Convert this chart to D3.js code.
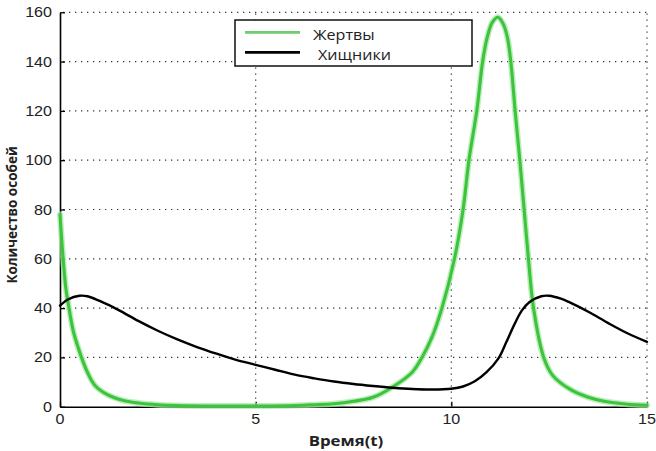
<!DOCTYPE html>
<html>
<head>
<meta charset="utf-8">
<script src="https://cdn.jsdelivr.net/npm/d3@7"></script>
<style>
  html, body { margin: 0; padding: 0; background: #fff; }
  svg { display: block; }
</style>
</head>
<body>
<svg id="chart" width="656" height="451"></svg>
<script>
// Prey population (Жертвы) over time
const preyTime = [0, 0.08, 0.15, 0.23, 0.35, 0.55, 0.7, 0.9, 1.2, 1.6, 2.0, 2.5, 3, 4, 5, 6, 6.5, 7, 7.5, 8, 8.5, 9, 9.25, 9.5, 9.76, 10.08, 10.3, 10.45, 10.65, 10.8, 10.92, 11.05, 11.19, 11.32, 11.43, 11.52, 11.63, 11.75, 11.86, 11.97, 12.1, 12.36, 12.6, 13.04, 13.5, 13.9, 14.5, 15];
const preyValues = [78, 60, 48, 40, 30, 20, 14, 8.5, 5, 2.6, 1.5, 0.8, 0.5, 0.3, 0.3, 0.5, 0.8, 1.2, 2.2, 3.8, 8, 14, 20, 28, 40, 60, 80, 100, 120, 140, 150, 156, 158, 155.5, 150, 140, 120, 100, 80, 60, 40, 20, 12.5, 7, 3.8, 2.2, 1, 0.6];

// Predator population (Хищники) over time
const predatorTime = [0, 0.2, 0.5, 0.7, 1.0, 1.5, 2.0, 2.5, 3.0, 3.5, 4.0, 4.5, 5.0, 5.5, 6.0, 6.5, 7.0, 7.5, 8.0, 8.5, 9.0, 9.5, 10.0, 10.3, 10.6, 10.9, 11.2, 11.4, 11.6, 11.8, 12.0, 12.3, 12.5, 12.8, 13.0, 13.5, 14.0, 14.5, 15.0];
const predatorValues = [41, 43.5, 45, 44.8, 43, 39.2, 34.8, 30.8, 27.3, 24.2, 21.5, 19, 17, 15, 13, 11.5, 10.2, 9.2, 8.4, 7.7, 7.2, 7, 7.3, 8.2, 10.3, 14, 19.5, 26, 33, 39, 42.5, 44.8, 45, 43.8, 42.5, 38.5, 34, 29.8, 26.3];

const xTickValues = [0, 5, 10, 15];
const yTickValues = [0, 20, 40, 60, 80, 100, 120, 140, 160];
const seriesNames = ["Жертвы", "Хищники"];
const xTitle = "Время(t)";
const yTitle = "Количество особей";

const svg = d3.select("#chart");

const x = d3.scaleLinear().domain([0, 15]).range([60, 647]);
const y = d3.scaleLinear().domain([0, 160]).range([406.7, 12.3]);

// dotted grid
const grid = svg.append("g")
  .attr("stroke", "#333")
  .attr("stroke-width", 1.2)
  .attr("stroke-dasharray", "1.3,4.7")
  .attr("fill", "none");
grid.selectAll("line.h").data(yTickValues.filter(v => v > 0)).join("line")
  .attr("class", "h")
  .attr("x1", x(0) + 3).attr("x2", x(15))
  .attr("y1", d => y(d)).attr("y2", d => y(d));
grid.selectAll("line.v").data(xTickValues.filter(v => v > 0)).join("line")
  .attr("class", "v")
  .attr("x1", d => x(d)).attr("x2", d => x(d))
  .attr("y1", y(0) - 2).attr("y2", y(160));

// axes with inward ticks
const xAxis = svg.append("g")
  .attr("transform", `translate(0,${y(0)})`)
  .call(d3.axisBottom(x).tickValues(xTickValues).tickSize(-5).tickSizeOuter(0).tickFormat(""));
const yAxis = svg.append("g")
  .attr("transform", `translate(${x(0)},0)`)
  .call(d3.axisLeft(y).tickValues(yTickValues).tickSize(-5).tickSizeOuter(0).tickFormat(""));
[xAxis, yAxis].forEach(g => {
  g.select(".domain").attr("stroke", "#000").attr("stroke-width", 1.6);
  g.selectAll(".tick line").attr("stroke", "#000").attr("stroke-width", 1.3);
});

// tick labels
const tickFont = "'Liberation Sans', Arial, sans-serif";
svg.append("g").selectAll("text").data(yTickValues).join("text")
  .attr("transform", d => `translate(52,${y(d) + 5}) scale(1.15,1)`)
  .attr("text-anchor", "end")
  .attr("font-family", tickFont)
  .attr("font-size", 14)
  .attr("fill", "#222")
  .text(d => d);
svg.append("g").selectAll("text").data(xTickValues).join("text")
  .attr("transform", d => `translate(${x(d)},${y(0) + 17.5}) scale(1.15,1)`)
  .attr("text-anchor", "middle")
  .attr("font-family", tickFont)
  .attr("font-size", 14)
  .attr("fill", "#222")
  .text(d => d);

// axis titles
svg.append("text")
  .attr("transform", `translate(346,446) scale(1.2,1)`)
  .attr("text-anchor", "middle")
  .attr("font-family", "'Open Sans', sans-serif")
  .attr("font-weight", "bold")
  .attr("font-size", 14)
  .attr("fill", "#222")
  .text(xTitle);
svg.append("text")
  .attr("transform", `translate(17,215) rotate(-90)`)
  .attr("text-anchor", "middle")
  .attr("font-family", "'Open Sans', sans-serif")
  .attr("font-weight", "bold")
  .attr("font-size", 13.5)
  .attr("fill", "#222")
  .text(yTitle);

// series lines
const line = d3.line()
  .x(d => x(d[0]))
  .y(d => y(d[1]))
  .curve(d3.curveCatmullRom.alpha(0.5));

const preyData = d3.zip(preyTime, preyValues);
const predatorData = d3.zip(predatorTime, predatorValues);

const plot = svg.append("g").attr("fill", "none").attr("stroke-linejoin", "round").attr("stroke-linecap", "round");
plot.append("path").attr("d", line(preyData))
  .attr("stroke", "#a3e6a3").attr("stroke-width", 6).attr("opacity", 0.7);
plot.append("path").attr("d", line(preyData))
  .attr("stroke", "#3cc43c").attr("stroke-width", 3.1);
plot.append("path").attr("d", line(predatorData))
  .attr("stroke", "#000").attr("stroke-width", 2.4);

// legend
const legend = svg.append("g");
legend.append("rect")
  .attr("x", 235).attr("y", 20).attr("width", 237).attr("height", 46)
  .attr("fill", "#fff").attr("stroke", "#111").attr("stroke-width", 1.5);
const legendColors = ["#6ccd6c", "#000"];
const legendRows = [32.3, 52.3];
const legendTextX = [313, 318];
seriesNames.forEach((name, i) => {
  legend.append("line")
    .attr("x1", 245).attr("x2", 300)
    .attr("y1", legendRows[i]).attr("y2", legendRows[i])
    .attr("stroke", legendColors[i]).attr("stroke-width", 2.8);
  legend.append("text")
    .attr("transform", `translate(${legendTextX[i]},${legendRows[i] + 8}) scale(1.15,1)`)
    .attr("font-family", "'Open Sans', sans-serif")
    .attr("font-size", 14)
    .attr("fill", "#222")
    .text(name);
});
</script>
</body>
</html>
